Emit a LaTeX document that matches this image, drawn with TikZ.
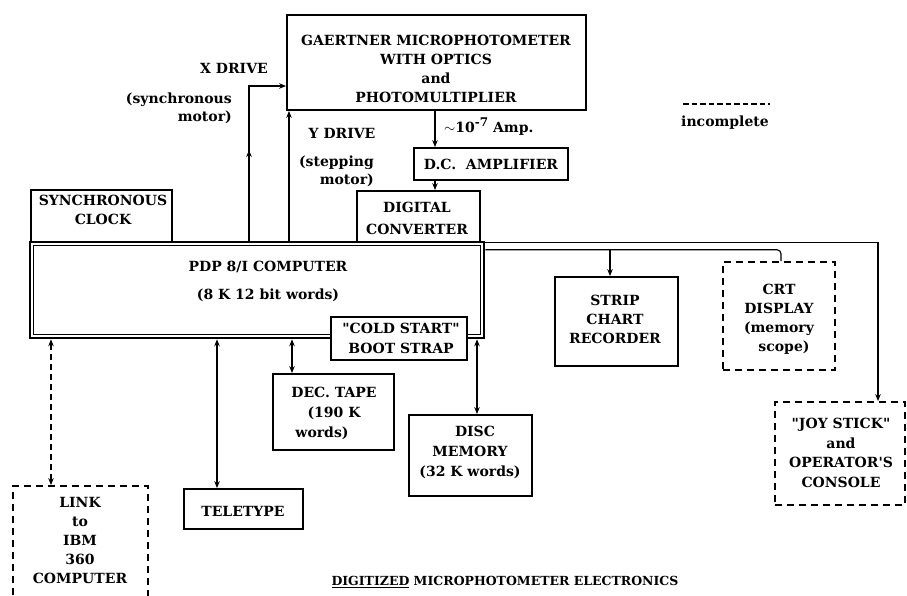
\documentclass[tikz,border=0pt]{standalone}
\usepackage{fontspec}
\setmainfont{DejaVu Serif}[Ligatures=TeXOff]
\usetikzlibrary{arrows.meta}
\newcommand\lblfont{\fontsize{14}{19}\selectfont\bfseries}
\begin{document}
\begin{tikzpicture}[x=1pt,y=-1pt,
  box/.style={draw, line width=1.8pt, fill=white, inner sep=0pt},
  dbox/.style={box, dash pattern=on 7pt off 5pt},
  conn/.style={line width=1.1pt},
  tip/.style={-{Stealth[length=7pt,width=5.5pt]}},
  both/.style={{Stealth[length=7pt,width=5.5pt]}-{Stealth[length=7pt,width=5.5pt]}},
  txt/.style={font=\lblfont, align=center, inner sep=0pt},
]
\useasboundingbox (0,0) rectangle (907,595);

% ---- boxes ----
\node[box, minimum width=299pt, minimum height=95pt] (gaert) at (436.5,62.5) {};
\node[box, minimum width=154pt, minimum height=32pt] (dcamp) at (491,164) {};
\node[box, line width=2.5pt, minimum width=454pt, minimum height=96pt] (pdp) at (257,290) {};
\draw[line width=1.2pt] ([shift={(5,5)}]pdp.north west) rectangle ([shift={(-5,-5)}]pdp.south east);
\node[box, minimum width=123pt, minimum height=51pt] (conv) at (418.5,216.5) {};
\node[box, minimum width=141pt, minimum height=52pt] (clock) at (101.5,216) {};
\node[box, minimum width=136pt, minimum height=43pt] (cold) at (399,338.5) {};
\node[box, minimum width=123pt, minimum height=89pt] (strip) at (616.5,321.5) {};
\node[box, minimum width=121pt, minimum height=76pt] (dec) at (333.5,412) {};
\node[box, minimum width=123pt, minimum height=81pt] (disc) at (470.5,455.5) {};
\node[box, minimum width=119pt, minimum height=40pt] (tele) at (243.5,509) {};
\node[dbox, minimum width=112pt, minimum height=108pt] (crt) at (779,316) {};
\node[dbox, minimum width=130pt, minimum height=103pt] (joy) at (840,453.5) {};
\node[dbox, minimum width=135pt, minimum height=120pt] (link) at (80.5,546) {};

% ---- texts ----
\node[txt] (tg) at (436,68.5) {GAERTNER MICROPHOTOMETER\\WITH OPTICS\\and\\PHOTOMULTIPLIER};
\node[txt] (tdc) at (491,164) {D.C.\ \ AMPLIFIER};
\node[txt, font=\fontsize{14}{22}\selectfont\bfseries] (tcv) at (417,218) {DIGITAL\\CONVERTER};
\node[txt] (tcl) at (103,210) {SYNCHRONOUS\\CLOCK};
\node[txt] (tp1) at (268,267) {PDP 8/I COMPUTER};
\node[txt] (tp2) at (268,295) {(8 K 12 bit words)};
\node[txt, font=\fontsize{14}{20}\selectfont\bfseries] (tco) at (401,338) {"COLD START"\\BOOT STRAP};
\node[txt] (tst) at (615,319) {STRIP\\CHART\\RECORDER};
\node[txt] (tcr) at (779,319) {CRT\\DISPLAY\\(memory\\\hspace*{10pt}scope)};
\node[txt, font=\fontsize{14}{20}\selectfont\bfseries] (tde) at (334,413) {DEC. TAPE\\(190 K\hspace*{22pt}\\words)\hspace*{24pt}};
\node[txt, font=\fontsize{14}{20}\selectfont\bfseries] (tdi) at (470,452) {\hspace*{10pt}DISC\\MEMORY\\(32 K words)};
\node[txt] (tte) at (243,511) {TELETYPE};
\node[txt] (tli) at (80,540) {LINK\\to\\IBM\\360\\COMPUTER};
\node[txt, font=\fontsize{14}{19.7}\selectfont\bfseries] (tjo) at (841,453) {"JOY STICK"\\and\\OPERATOR'S\\CONSOLE};
\node[txt] (txd) at (234,68) {X DRIVE};
\node[txt, align=right, font=\fontsize{14}{18}\selectfont\bfseries, anchor=east] (txs) at (232,108.5) {(synchronous\\motor)};
\node[txt] (tyd) at (342,133) {Y DRIVE};
\node[txt, align=right, font=\fontsize{14}{18}\selectfont\bfseries, anchor=east] (tys) at (374,171) {(stepping\\motor)};
\node[txt, anchor=west] (tam) at (444,127) {$\sim$10\raisebox{6pt}{\fontsize{12}{12}\selectfont\bfseries -7} Amp.};
\node[txt] (tin) at (725,123) {incomplete};
\node[txt, font=\fontsize{12.5}{15}\selectfont\bfseries] (cap) at (505,582) {\underline{DIGITIZED} MICROPHOTOMETER ELECTRONICS};

% ---- legend ----
\coordinate (legA) at (683,104);
\coordinate (legB) at (770,104);
\draw[line width=1.8pt, dash pattern=on 5.5pt off 3pt] (legA) -- (legB);

% ---- connectors ----
\coordinate (xd) at (249,86);
\coordinate (xm) at (249,150);
\draw[conn,tip] (pdp.north -| xd) -- (xd) -- (xd -| gaert.west);
\draw[conn,tip] (pdp.north -| xd) -- (xm);
\coordinate (yd) at (289,0);
\draw[conn,tip] (pdp.north -| yd) -- (gaert.south -| yd);
\coordinate (ax) at (435,0);
\draw[conn,tip] (gaert.south -| ax) -- (dcamp.north -| ax);
\draw[conn,tip] (dcamp.south -| ax) -- (conv.north -| ax);

\coordinate (b1) at ([shift={(0,2)}]pdp.north east);
\coordinate (b2) at ([shift={(0,9)}]pdp.north east);
\coordinate (jx) at (878,0);
\coordinate (cx) at (781,0);
\coordinate (sx) at (610,0);
\draw[conn,tip] (b1) -- (b1 -| jx) -- (joy.north -| jx);
\draw[conn,rounded corners=4pt] (b2) -- (b2 -| cx) -- (crt.north -| cx);
\draw[conn,tip] (b2 -| sx) -- (strip.north -| sx);

\coordinate (dx) at (292,0);
\coordinate (tx) at (217,0);
\coordinate (mx) at (477,0);
\coordinate (lx) at (51,0);
\draw[conn,both] (pdp.south -| dx) -- (dec.north -| dx);
\draw[conn,both] (pdp.south -| tx) -- (tele.north -| tx);
\draw[conn,both] (pdp.south -| mx) -- (disc.north -| mx);
\draw[conn,both,dash pattern=on 6pt off 4pt] (pdp.south -| lx) -- (link.north -| lx);
\end{tikzpicture}
\end{document}
